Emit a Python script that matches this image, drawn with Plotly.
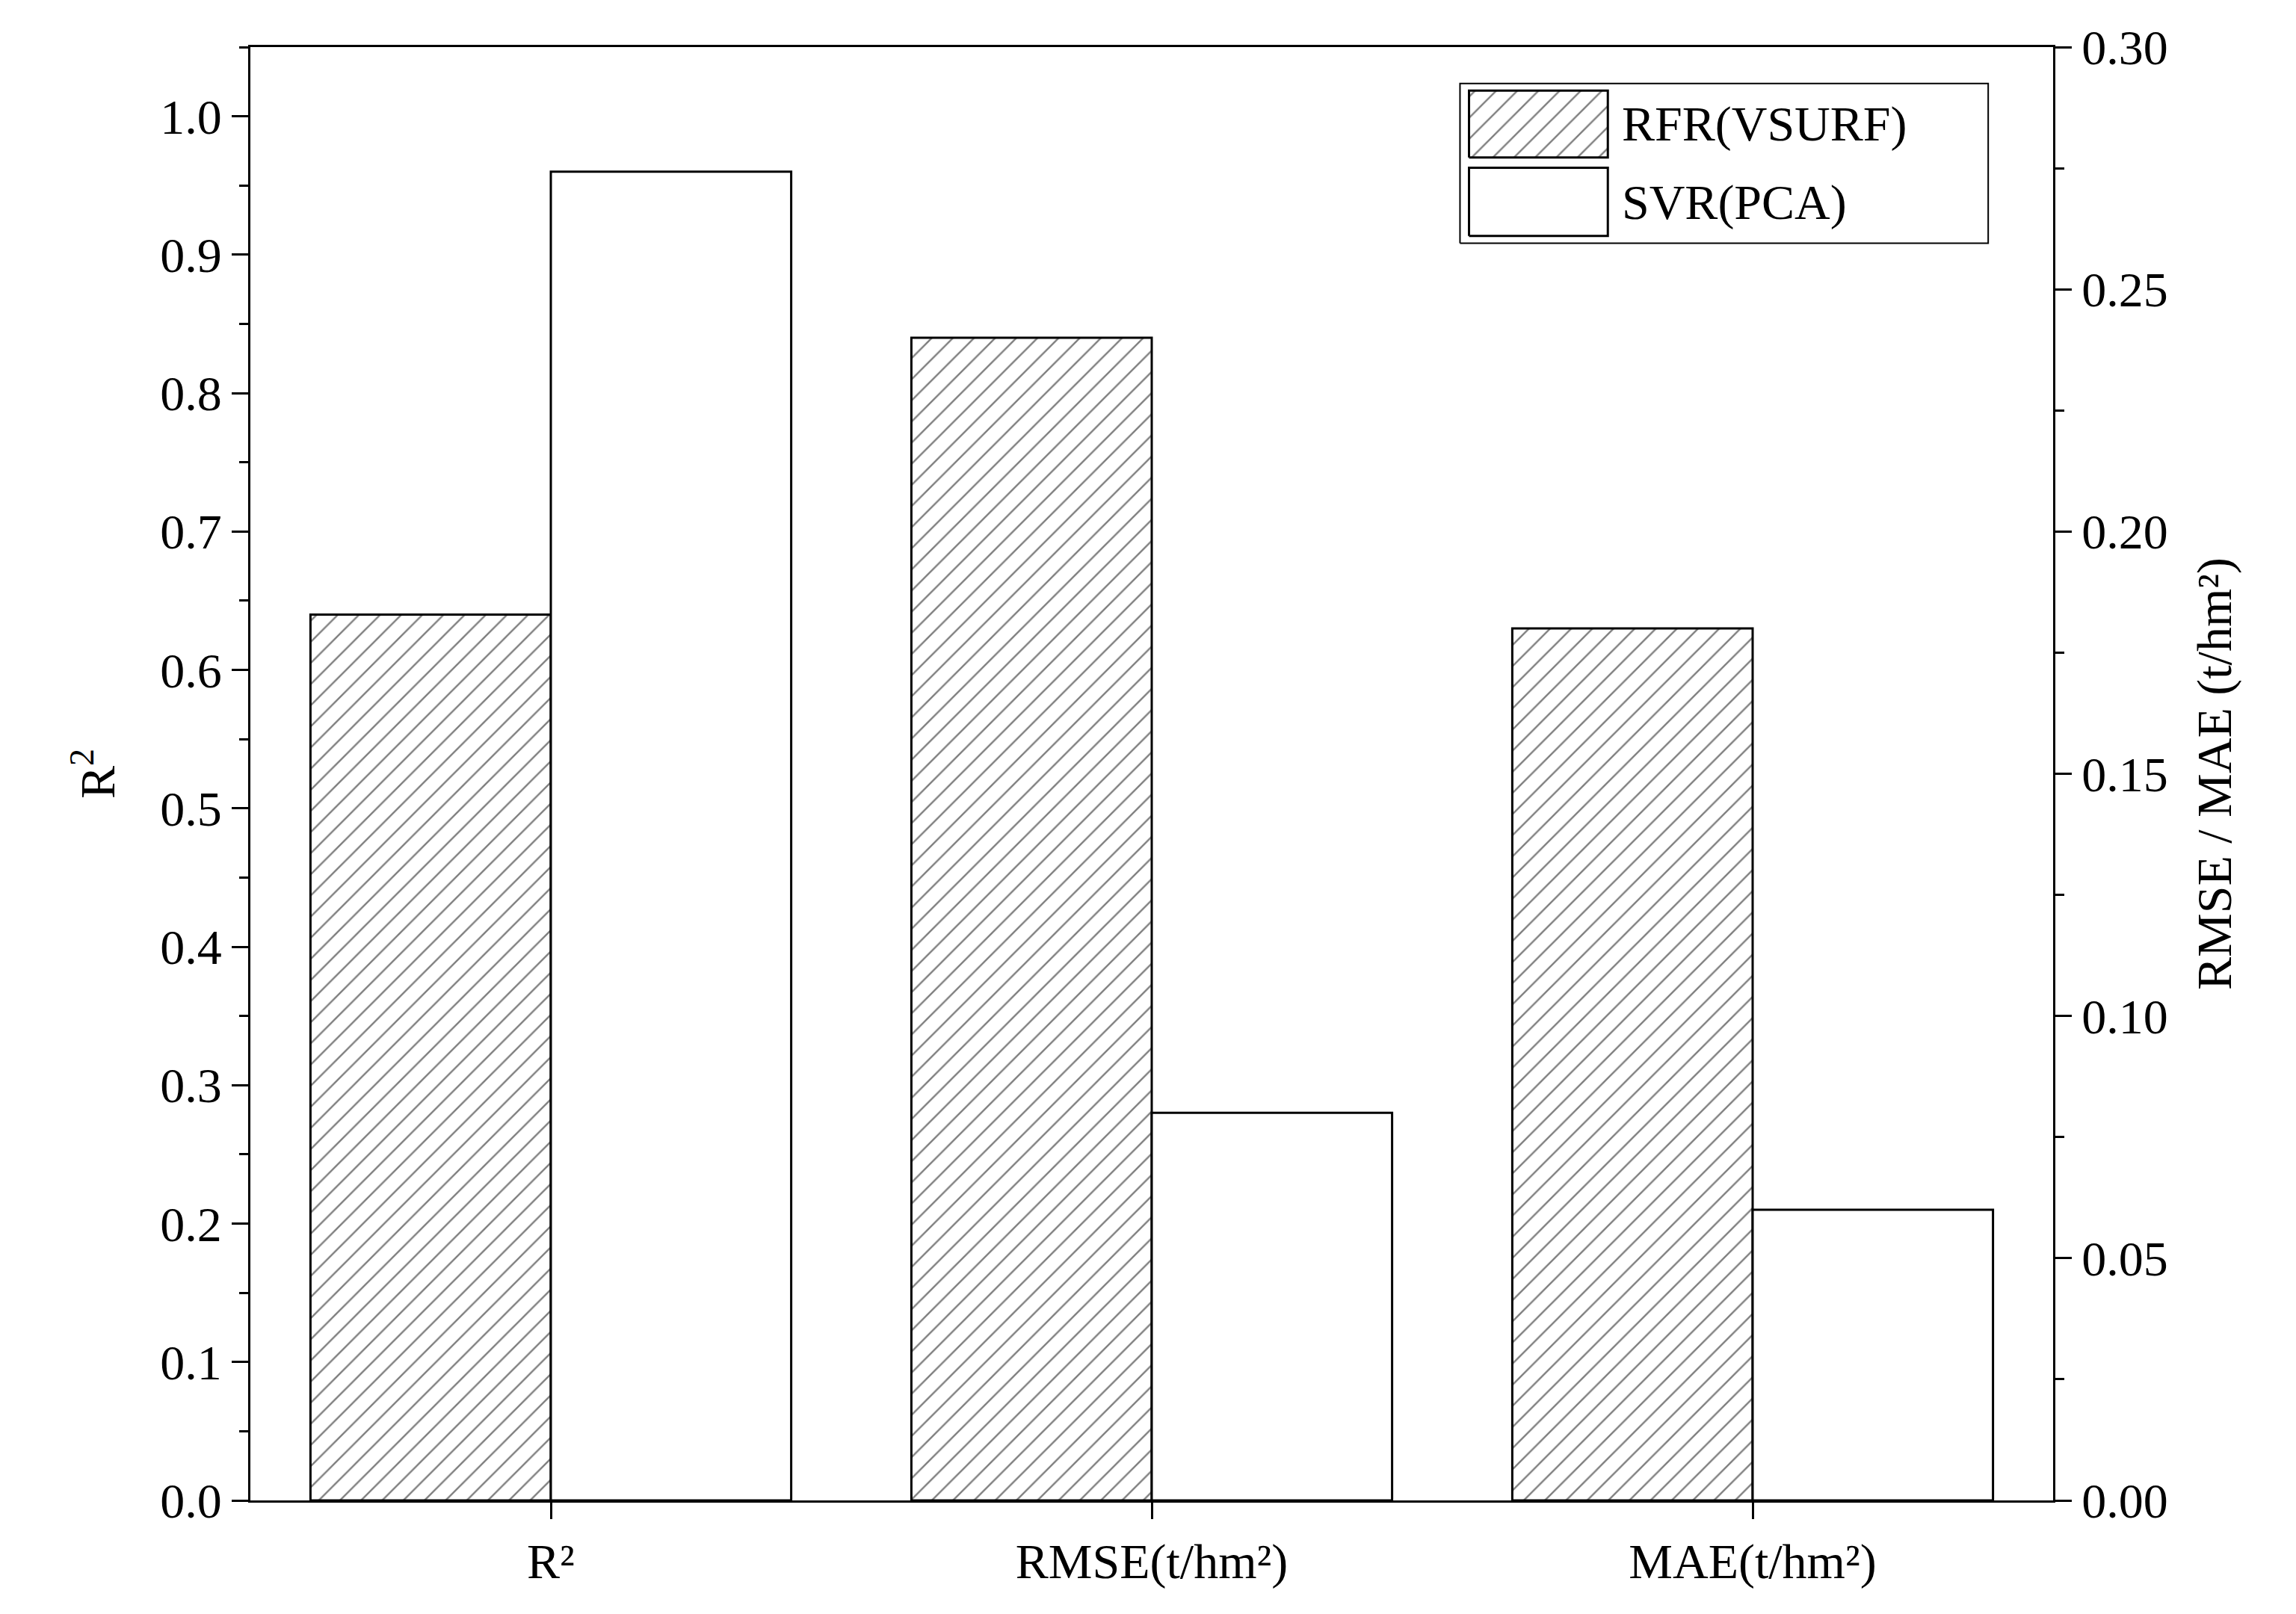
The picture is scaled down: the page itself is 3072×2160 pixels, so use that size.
import plotly.graph_objects as go

categories = ["R²", "RMSE(t/hm²)", "MAE(t/hm²)"]
series_names = ["RFR(VSURF)", "SVR(PCA)"]
rfr_r2 = [0.64]
svr_r2 = [0.96]
rfr_err = [0.24, 0.18]
svr_err = [0.08, 0.06]

F = dict(family="Liberation Serif", color="black")
line = dict(color="black", width=3)
hatch = dict(shape="/", fgcolor="black", bgcolor="white", size=20, solidity=0.12)
fig = go.Figure()
fig.add_bar(x=categories[:1], y=rfr_r2, name=series_names[0], offsetgroup="a", width=0.4,
            marker=dict(color="white", line=line, pattern=hatch), showlegend=False)
fig.add_bar(x=categories[:1], y=svr_r2, name=series_names[1], offsetgroup="b", width=0.4,
            marker=dict(color="white", line=line), showlegend=False)
fig.add_bar(x=categories[1:], y=rfr_err, name=series_names[0], offsetgroup="a", width=0.4, yaxis="y2",
            marker=dict(color="white", line=line, pattern=hatch), showlegend=False)
fig.add_bar(x=categories[1:], y=svr_err, name=series_names[1], offsetgroup="b", width=0.4, yaxis="y2",
            marker=dict(color="white", line=line), showlegend=False)

# custom legend on a hidden overlay axis (0..1 = plot area)
fig.add_scatter(x=[0.671, 0.964, 0.964, 0.671, 0.671], y=[0.865, 0.865, 0.975, 0.975, 0.865],
                xaxis="x3", yaxis="y3", mode="lines", line=dict(color="black", width=2),
                fill="toself", fillcolor="white", showlegend=False, hoverinfo="skip")
fig.add_scatter(x=[0.676, 0.753, 0.753, 0.676, 0.676], y=[0.924, 0.924, 0.970, 0.970, 0.924],
                xaxis="x3", yaxis="y3", mode="lines", line=dict(color="black", width=3),
                fill="toself", fillcolor="white", fillpattern=hatch, showlegend=False, hoverinfo="skip")
fig.add_scatter(x=[0.676, 0.753, 0.753, 0.676, 0.676], y=[0.870, 0.870, 0.917, 0.917, 0.870],
                xaxis="x3", yaxis="y3", mode="lines", line=dict(color="black", width=3),
                fill="toself", fillcolor="white", showlegend=False, hoverinfo="skip")
for yy, nm in zip([0.947, 0.893], series_names):
    fig.add_annotation(x=0.760, y=yy, xref="x3", yref="y3", text=nm, showarrow=False,
                       xanchor="left", yanchor="middle", font=dict(size=66, **F))

tick = dict(ticks="outside", ticklen=22, tickwidth=3, tickcolor="black", showline=True, linewidth=3,
            linecolor="black", showgrid=False, zeroline=False, tickfont=dict(size=66, **F))
mn = dict(ticks="outside", ticklen=12, tickwidth=3, tickcolor="black")
fig.update_layout(
    width=3072, height=2160, plot_bgcolor="white", paper_bgcolor="white",
    barmode="group", bargap=0.2, bargroupgap=0,
    margin=dict(l=327, r=333, t=55, b=160),
    xaxis=dict(range=[-0.5, 2.5], mirror=True, **tick, minor=dict(dtick=0.5, **mn)),
    yaxis=dict(range=[0, 1.05], dtick=0.1, tickformat=".1f", **tick,
               title=dict(text="R<sup>2</sup>", font=dict(size=66, **F), standoff=40),
               minor=dict(dtick=0.05, **mn)),
    yaxis2=dict(range=[0, 0.30], dtick=0.05, tickformat=".2f", overlaying="y", side="right", **tick,
                title=dict(text="RMSE / MAE (t/hm²)", font=dict(size=66, **F), standoff=40),
                minor=dict(dtick=0.025, **mn)),
    xaxis3=dict(range=[0, 1], overlaying="x", visible=False, fixedrange=True),
    yaxis3=dict(range=[0, 1], overlaying="y", visible=False, fixedrange=True),
)
fig.write_html("out.html")
